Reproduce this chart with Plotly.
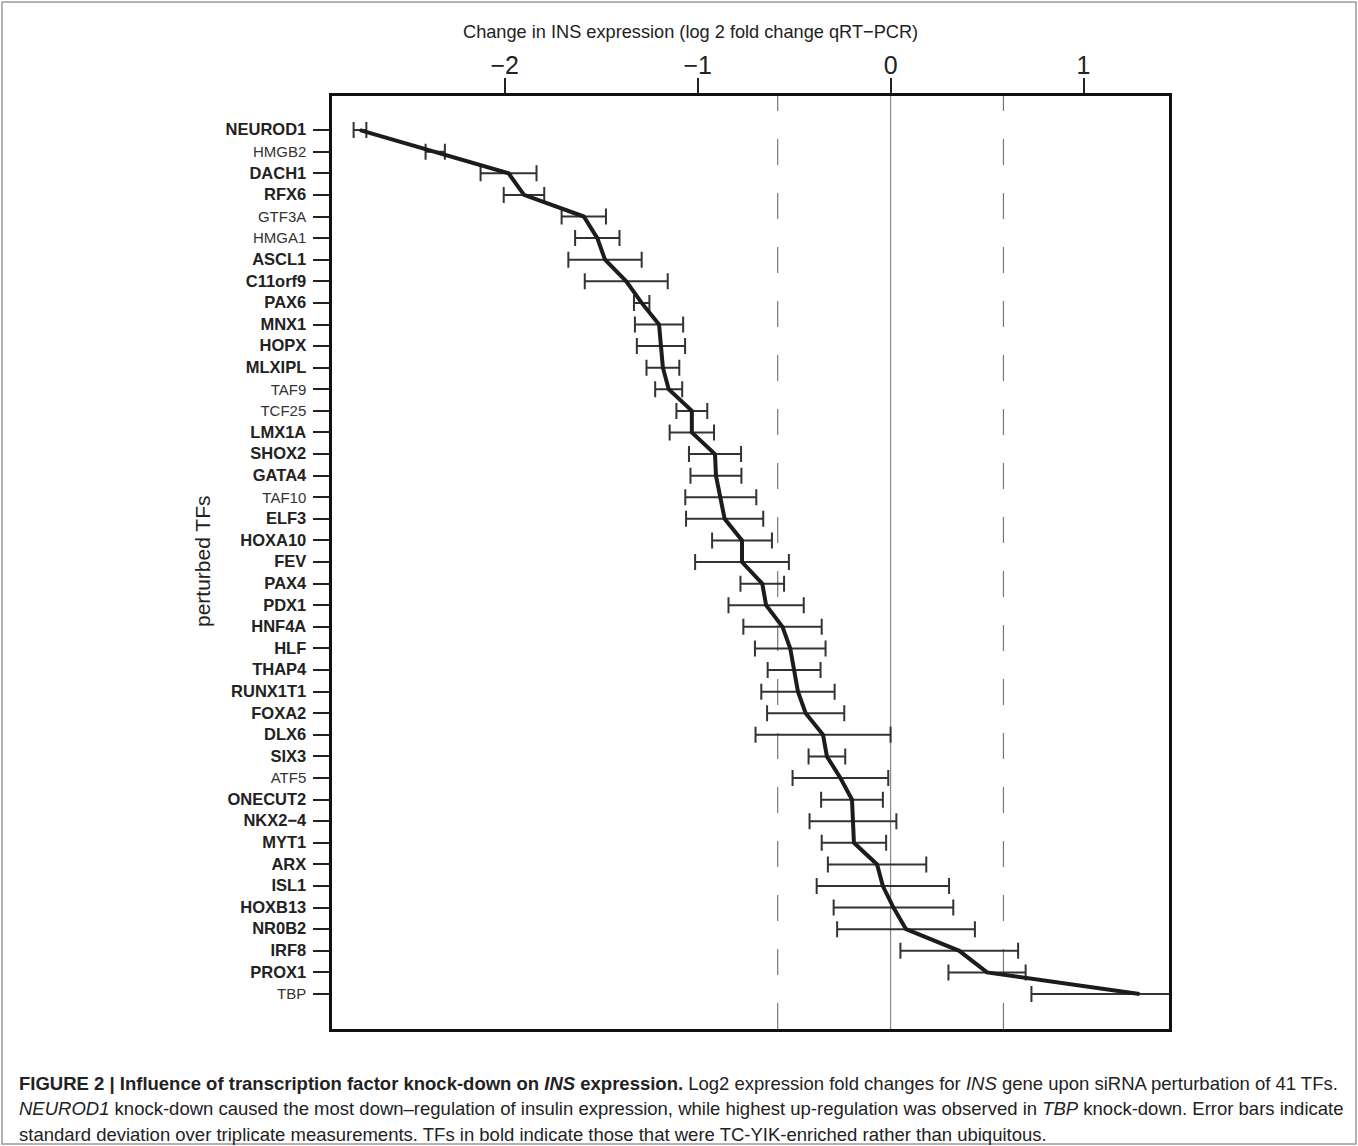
import math
import plotly.graph_objects as go

# ---------------- data ----------------
tfs = ["NEUROD1", "HMGB2", "DACH1", "RFX6", "GTF3A", "HMGA1", "ASCL1", "C11orf9",
       "PAX6", "MNX1", "HOPX", "MLXIPL", "TAF9", "TCF25", "LMX1A", "SHOX2", "GATA4",
       "TAF10", "ELF3", "HOXA10", "FEV", "PAX4", "PDX1", "HNF4A", "HLF", "THAP4",
       "RUNX1T1", "FOXA2", "DLX6", "SIX3", "ATF5", "ONECUT2", "NKX2\u22124", "MYT1",
       "ARX", "ISL1", "HOXB13", "NR0B2", "IRF8", "PROX1", "TBP"]

log2fc = [-2.75, -2.36, -1.98, -1.90, -1.59, -1.52, -1.48, -1.37,
          -1.29, -1.20, -1.19, -1.18, -1.15, -1.03, -1.03, -0.91, -0.905,
          -0.88, -0.86, -0.77, -0.77, -0.665, -0.645, -0.56, -0.52, -0.50,
          -0.48, -0.44, -0.35, -0.33, -0.26, -0.20, -0.195, -0.19,
          -0.07, -0.04, 0.015, 0.08, 0.356, 0.50, 1.29]

sd = [0.033, 0.05, 0.145, 0.105, 0.115, 0.115, 0.19, 0.215,
      0.04, 0.125, 0.125, 0.085, 0.07, 0.08, 0.115, 0.135, 0.132,
      0.184, 0.20, 0.155, 0.243, 0.113, 0.195, 0.203, 0.183, 0.137,
      0.19, 0.20, 0.35, 0.095, 0.248, 0.16, 0.225, 0.167,
      0.255, 0.343, 0.31, 0.357, 0.305, 0.20, 0.56]

ubiquitous = ["HMGB2", "GTF3A", "HMGA1", "TAF9", "TCF25", "TAF10", "ATF5", "TBP"]

x_ticks = [-2, -1, 0, 1]
threshold = math.log2(1.5)

# ---------------- layout geometry ----------------
W, H = 1358, 1146
ML, MR, MT, MB = 332, 189, 96, 117
PW = W - ML - MR
PH = H - MT - MB


def px_x(p):
    return (p - ML) / PW


def px_y(p):
    return 1 - (p - MT) / PH


ticktext = []
for t in tfs:
    if t in ubiquitous:
        ticktext.append('<span style="color:#333333">' + t + '</span>')
    else:
        ticktext.append('<span style="font-size:16.5px"><b>' + t + '</b></span>')

idx = list(range(len(tfs)))

fig = go.Figure()
fig.add_trace(go.Scatter(
    x=log2fc, y=idx, mode="lines",
    line=dict(color="#1c1c1c", width=4),
    error_x=dict(type="data", array=sd, visible=True, color="#333333",
                 thickness=2, width=8),
    showlegend=False, hoverinfo="x+y",
))

shapes = []
# zero line
shapes.append(dict(type="line", xref="x", yref="paper", x0=0, x1=0, y0=0, y1=1,
                   line=dict(color="#888888", width=1.2), layer="below"))
for v in (-threshold, threshold):
    shapes.append(dict(type="line", xref="x", yref="paper", x0=v, x1=v, y0=0, y1=1,
                       line=dict(color="#777777", width=1.2, dash="26px,28px"),
                       layer="below"))
# outer figure border
shapes.append(dict(type="rect", xref="paper", yref="paper",
                   x0=px_x(2), x1=px_x(1356), y0=px_y(1144), y1=px_y(2),
                   line=dict(color="#9a9a9a", width=1.5), layer="below"))

caption_lines = [
    "<b>FIGURE 2 | Influence of transcription factor knock-down on <i>INS</i> expression.</b> "
    "Log2 expression fold changes for <i>INS</i> gene upon siRNA perturbation of 41 TFs.",
    "<i>NEUROD1</i> knock-down caused the most down\u2013regulation of insulin expression, "
    "while highest up-regulation was observed in <i>TBP</i> knock-down. Error bars indicate",
    "standard deviation over triplicate measurements. TFs in bold indicate those that were "
    "TC-YIK-enriched rather than ubiquitous.",
]
caption_y = [1083, 1108, 1134]

annotations = []
for line, yp in zip(caption_lines, caption_y):
    annotations.append(dict(
        text=line, xref="paper", yref="paper", x=px_x(17), y=px_y(yp),
        xanchor="left", yanchor="middle", showarrow=False,
        font=dict(family="Liberation Sans, Arial, sans-serif", size=18.5, color="#222222"),
    ))
annotations.append(dict(
    text="perturbed TFs", xref="paper", yref="paper", x=px_x(202), y=px_y(561),
    xanchor="center", yanchor="middle", showarrow=False, textangle=-90,
    font=dict(family="Liberation Sans, Arial, sans-serif", size=21, color="#222222"),
))
annotations.append(dict(
    text="Change in INS expression (log 2 fold change qRT\u2212PCR)",
    xref="paper", yref="paper", x=px_x(690), y=px_y(32),
    xanchor="center", yanchor="middle", showarrow=False,
    font=dict(family="Liberation Sans, Arial, sans-serif", size=18.2, color="#222222"),
))

fig.update_layout(
    width=W, height=H,
    margin=dict(l=ML, r=MR, t=MT, b=MB, pad=0),
    paper_bgcolor="white", plot_bgcolor="white",
    font=dict(family="Liberation Sans, Arial, sans-serif", color="#222222"),
    shapes=shapes, annotations=annotations,
    xaxis=dict(
        side="top", range=[-2.895, 1.443], tickvals=x_ticks,
        ticks="outside", ticklen=15, tickwidth=1.5, tickcolor="#222222",
        tickfont=dict(size=25, color="#222222"),
        ticklabelstandoff=-6,
        showgrid=False, zeroline=False,
        showline=True, linecolor="#111111", linewidth=2.5, mirror=True,
    ),
    yaxis=dict(
        range=[41.62, -1.58], tickvals=idx, ticktext=ticktext,
        ticks="outside", ticklen=16, tickwidth=1.5, tickcolor="#222222",
        tickfont=dict(size=15, color="#222222"),
        showgrid=False, zeroline=False,
        showline=True, linecolor="#111111", linewidth=2.5, mirror=True,
        ticklabelstandoff=4,
    ),
)

fig.write_html("out.html", config={"displayModeBar": False},
               post_script="document.body.style.margin='0px';")
